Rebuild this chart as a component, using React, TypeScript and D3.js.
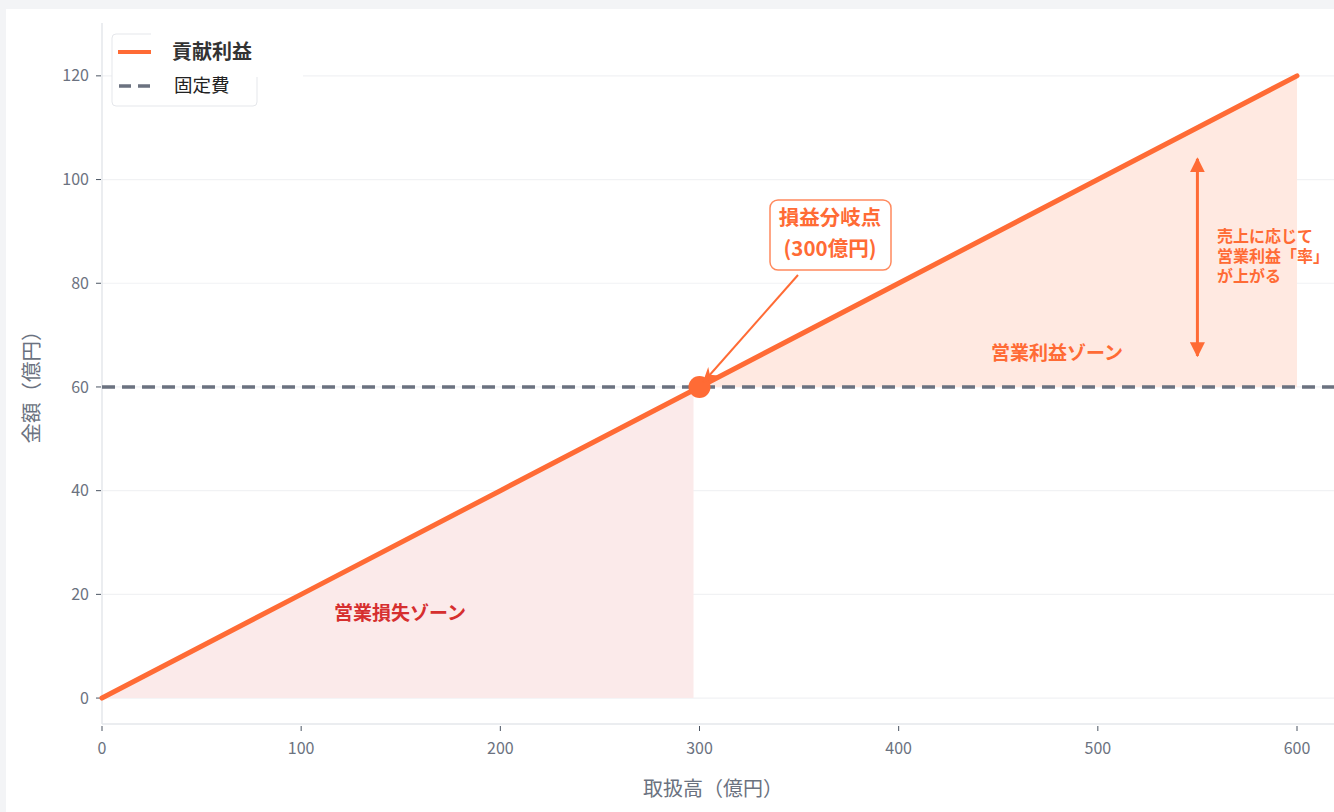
import React from "react";
import * as d3 from "d3";

const sales = [0, 100, 200, 300, 400, 500, 600];
const contribution = [0, 20, 40, 60, 80, 100, 120];
const fixedCost = 60;
const breakEvenSales = 300;
const xTicks = [0, 100, 200, 300, 400, 500, 600];
const yTicks = [0, 20, 40, 60, 80, 100, 120];
const lossEnd = 297;
const arrowRange = [66, 104];
const arrowX = 550;

const W = 1334;
const H = 812;
const FONT = "'Noto Sans CJK JP', 'Noto Sans', sans-serif";
const ORANGE = "#ff6b35";
const GRAY = "#6b7280";

export default function App() {
  const x = d3.scaleLinear().domain([0, 600]).range([102, 1297]);
  const y = d3.scaleLinear().domain([-5, 130]).range([724, 24]);

  const pts = sales.map((s, i) => ({ s, v: contribution[i] }));
  const valAt = (s: number) => (s / 600) * 120;
  const line = d3
    .line<{ s: number; v: number }>()
    .x((d) => x(d.s))
    .y((d) => y(d.v));

  const lossPts = [
    { s: 0, v: 0 },
    { s: 100, v: 20 },
    { s: 200, v: 40 },
    { s: lossEnd, v: valAt(lossEnd) },
  ];
  const lossArea = d3
    .area<{ s: number; v: number }>()
    .x((d) => x(d.s))
    .y0(y(0))
    .y1((d) => y(d.v));
  const profitPts = pts.filter((d) => d.s >= breakEvenSales);
  const profitArea = d3
    .area<{ s: number; v: number }>()
    .x((d) => x(d.s))
    .y0(y(fixedCost))
    .y1((d) => y(d.v));

  const bx = x(breakEvenSales);
  const by = y(fixedCost);
  const ax = x(arrowX);

  return (
    <svg
      width={W}
      height={H}
      style={{ position: "fixed", left: 0, top: 0, fontFamily: FONT }}
    >
      <defs>
        <marker id="ah" viewBox="0 0 10 10" refX="9" refY="5" markerWidth="5" markerHeight="5" orient="auto-start-reverse">
          <path d="M0,0 L10,5 L0,10 z" fill={ORANGE} />
        </marker>
        <marker id="ah2" viewBox="0 0 10 10" refX="9" refY="5" markerWidth="8" markerHeight="8" orient="auto">
          <path d="M0,1 L10,5 L0,9 L3,5 z" fill={ORANGE} />
        </marker>
      </defs>
      <rect x={0} y={0} width={W} height={H} fill="#f3f4f6" />
      <rect x={6} y={9} width={W - 6} height={H - 9} fill="#ffffff" />

      {/* grid */}
      {yTicks.map((t) => (
        <line key={"g" + t} x1={102} x2={W} y1={y(t)} y2={y(t)} stroke="#f1f2f4" strokeWidth={1.2} />
      ))}

      {/* areas */}
      <path d={lossArea(lossPts) || ""} fill="#fbeaea" />
      <path d={profitArea(profitPts) || ""} fill="#ffe9e1" />

      {/* axes */}
      <line x1={102} x2={102} y1={23} y2={724} stroke="#e5e7eb" strokeWidth={1.5} />
      <line x1={102} x2={W} y1={724} y2={724} stroke="#e5e7eb" strokeWidth={1.5} />
      {yTicks.map((t) => (
        <g key={"y" + t}>
          <line x1={96} x2={101} y1={y(t)} y2={y(t)} stroke="#4b5563" strokeWidth={1} />
          <text x={89} y={y(t)} dy="0.35em" textAnchor="end" fontSize={16} fill={GRAY}>
            {t}
          </text>
        </g>
      ))}
      {xTicks.map((t) => (
        <g key={"x" + t}>
          <line x1={x(t)} x2={x(t)} y1={726} y2={731} stroke="#4b5563" strokeWidth={1} />
          <text x={x(t)} y={754} textAnchor="middle" fontSize={16} fill={GRAY}>
            {t}
          </text>
        </g>
      ))}
      <text x={713} y={796} textAnchor="middle" fontSize={20} fill={GRAY}>
        取扱高（億円）
      </text>
      <text transform={`translate(39,382) rotate(-90)`} textAnchor="middle" fontSize={20.5} fill={GRAY}>
        金額（億円）
      </text>

      {/* fixed cost */}
      <line x1={102} x2={W} y1={by} y2={by} stroke={GRAY} strokeWidth={3.5} strokeDasharray="13,7" />

      {/* contribution line */}
      <path d={line(pts) || ""} fill="none" stroke={ORANGE} strokeWidth={5} strokeLinecap="round" />

      {/* break-even point */}
      <circle cx={bx} cy={by} r={11} fill={ORANGE} />

      {/* annotation */}
      <line x1={798} y1={275} x2={bx + 4} y2={by - 5} stroke={ORANGE} strokeWidth={2} markerEnd="url(#ah2)" />
      <rect x={770} y={200} width={121} height={70} rx={8} fill="#ffffff" stroke={ORANGE} strokeOpacity={0.8} strokeWidth={1.5} />
      <text x={830} y={225} textAnchor="middle" fontSize={20.5} fontWeight="bold" fill={ORANGE}>
        損益分岐点
      </text>
      <text x={830} y={256} textAnchor="middle" fontSize={20.5} fontWeight="bold" fill={ORANGE}>
        (300億円)
      </text>

      {/* double arrow */}
      <line x1={ax} x2={ax} y1={y(arrowRange[1])} y2={y(arrowRange[0])} stroke={ORANGE} strokeWidth={3} markerStart="url(#ah)" markerEnd="url(#ah)" />
      <text fontSize={16} fontWeight="bold" fill={ORANGE}>
        <tspan x={1217} y={242}>売上に応じて</tspan>
        <tspan x={1217} y={262}>営業利益「率」</tspan>
        <tspan x={1217} y={282}>が上がる</tspan>
      </text>

      <text x={1057} y={360} textAnchor="middle" fontSize={19} fontWeight="bold" fill={ORANGE}>
        営業利益ゾーン
      </text>
      <text x={400} y={620} textAnchor="middle" fontSize={19} fontWeight="bold" fill="#d62f2f">
        営業損失ゾーン
      </text>

      {/* legend */}
      <rect x={112} y={34} width={145} height={72} rx={4} fill="#ffffff" stroke="#e5e7eb" strokeWidth={1} />
      <rect x={151} y={33} width={152} height={44} fill="#ffffff" />
      <line x1={118} x2={151} y1={52} y2={52} stroke={ORANGE} strokeWidth={4} />
      <text x={172} y={52} dy="0.35em" fontSize={20} fontWeight="bold" fill="#333333">
        貢献利益
      </text>
      <line x1={119} x2={154} y1={86} y2={86} stroke={GRAY} strokeWidth={3.5} strokeDasharray="12,7" />
      <text x={174} y={86} dy="0.35em" fontSize={18.5} fill="#222222">
        固定費
      </text>
    </svg>
  );
}
